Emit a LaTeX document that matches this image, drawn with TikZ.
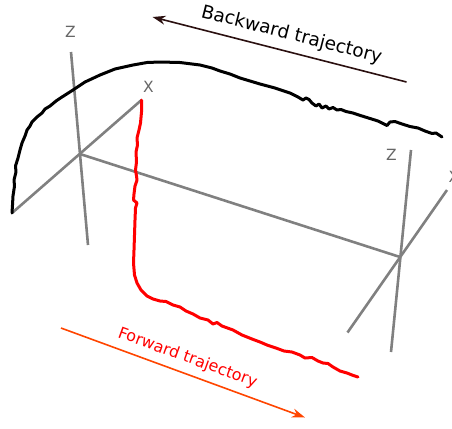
\documentclass[tikz,border=0pt]{standalone}
\usepackage{fontspec}
\setmainfont{DejaVu Sans}
\usetikzlibrary{arrows.meta}
\definecolor{AxisGray}{HTML}{808080}
\definecolor{LabelGray}{HTML}{666666}
\definecolor{FwdOrange}{HTML}{FF4500}
\definecolor{FwdRed}{HTML}{FF0000}
\definecolor{BwdBrown}{HTML}{2B1010}

\begin{document}
\begin{tikzpicture}[
  x=1bp, y=-1bp,
  axis/.style={draw=AxisGray, line width=2.6bp},
  axlabel/.style={text=LabelGray, font=\fontsize{15.5}{18}\selectfont, inner sep=0pt},
  traj/.style={line width=3bp, line join=round, line cap=round},
  dirarrow/.style={-{Stealth[length=13bp, width=9bp]}, line width=1.6bp},
  dirlabel/.style={inner sep=0pt}
]
\useasboundingbox (0,0) rectangle (452,428);

% left frame
\coordinate (o1) at (80,154);
\coordinate (zl1) at (71,52);
\coordinate (zl2) at (88,245);
\coordinate (xl1) at (12,213);
\coordinate (xl2) at (141.5,100);
% right frame
\coordinate (o2) at (400,257);
\coordinate (zr1) at (411,150);
\coordinate (zr2) at (391,352);
\coordinate (xr1) at (347.5,332.5);
\coordinate (xr2) at (447,190);

\draw[axis] (zl1) -- (zl2);
\draw[axis] (xl1) -- (xl2);
\draw[axis] (o1) -- (o2);
\draw[axis] (zr1) -- (zr2);
\draw[axis] (xr1) -- (xr2);

\node[axlabel] (zlab1) at (70.5,31.5) {Z};
\node[axlabel] (xlab1) at (148.5,87) {X};
\node[axlabel] (zlab2) at (391.5,155) {Z};
\node[axlabel] (xlab2) at (454,177) {X};

% backward trajectory
\draw[traj, black] (xl1) -- (12.5,205) -- (13,196) -- (14.5,186) -- (14,180)
  -- (16,172) -- (15.5,166) -- (18,158) -- (20,150) -- (22,143) -- (25,136)
  -- (27,130) -- (30,126) -- (32,122) -- (37,117) -- (42,113) -- (45,109)
  -- (50,106) -- (56,101) -- (62,97) -- (73,90) -- (85,82) -- (100,75)
  -- (115,69) -- (133,65) -- (147,62.5) -- (160,62) -- (180,62.5) -- (200,65)
  -- (212,68) -- (220,71) -- (230,74) -- (240,78) -- (250,81) -- (260,84)
  -- (275,88) -- (290,93) -- (298,97) -- (303,100) -- (306,98) -- (309,99.5)
  -- (312,103) -- (316,106) -- (319,104) -- (322,108) -- (326,106) -- (329,109)
  -- (333,107.5) -- (337,110) -- (341,109.5) -- (346,111.5) -- (353,113)
  -- (362,116) -- (370,118.5) -- (378,121) -- (384,124) -- (387,125.5)
  -- (390,122) -- (395,121.5) -- (402,124) -- (410,126.5) -- (418,128)
  -- (425,131) -- (432,133.5) -- (436,133) -- (442,137);

% forward trajectory
\draw[traj, FwdRed] (xl2) -- (141.5,112) -- (140.5,123) -- (139,130)
  -- (137,138) -- (137.5,145) -- (136,152) -- (136.5,162) -- (135.5,170)
  -- (136.5,176) -- (137,180) -- (135,186) -- (134,194) -- (133.5,200)
  -- (137,203) -- (135.5,208) -- (135,220) -- (134.5,235) -- (134,250)
  -- (133.5,263) -- (134.5,275) -- (137,283) -- (141,290) -- (147,296)
  -- (153,299) -- (160,301) -- (166,301.5) -- (173,305) -- (180,307)
  -- (186,311) -- (193,314) -- (200,318) -- (208,320) -- (213,324)
  -- (217,322.5) -- (222,326) -- (233,330) -- (242,335) -- (252,339)
  -- (260,342) -- (267,345) -- (276,348) -- (284,351) -- (292,352)
  -- (300,355) -- (305,358) -- (312,357.5) -- (318,361) -- (323,363)
  -- (328,363.5) -- (333,367) -- (340,371) -- (347,373) -- (352,375)
  -- (358,377);

% direction arrows
\coordinate (fwdA) at (61,328);
\coordinate (fwdB) at (305,417.5);
\coordinate (bwdA) at (406.5,82);
\coordinate (bwdB) at (152.5,17);
\draw[dirarrow, FwdOrange] (fwdA) -- (fwdB);
\draw[dirarrow, BwdBrown] (bwdA) -- (bwdB);
\node[dirlabel, text=FwdRed, rotate=-20, font=\fontsize{16}{19}\selectfont] (fwdlab) at (187.5,358) {Forward trajectory};
\node[dirlabel, rotate=-14.3, font=\fontsize{18.5}{22}\selectfont] (bwdlab) at (291.5,35) {Backward trajectory};
\end{tikzpicture}
\end{document}
